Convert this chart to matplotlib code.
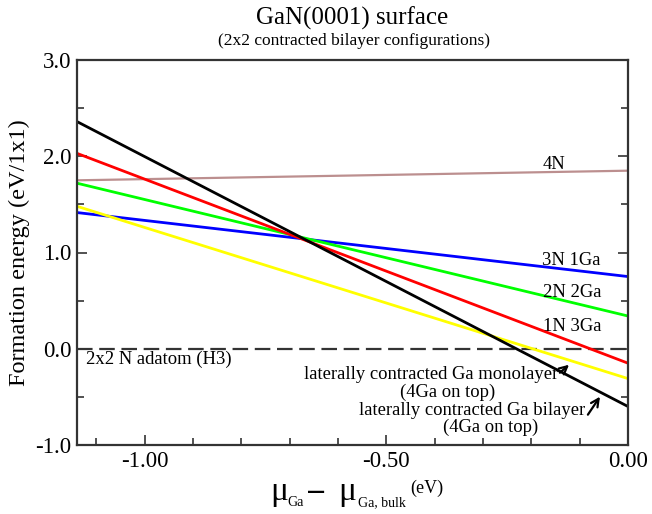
import numpy as np
import matplotlib.pyplot as plt
from matplotlib.ticker import MultipleLocator, FormatStrFormatter

plt.rcParams['font.family'] = ['Liberation Serif', 'DejaVu Serif']

# Ga chemical potential range (eV), relative to bulk Ga
mu_range = [-1.14, 0.0]

# formation energies (eV/1x1) at both ends of the mu range
e_4n = [1.75, 1.85]
e_3n1ga = [1.415, 0.75]
e_2n2ga = [1.72, 0.34]
e_1n3ga = [2.03, -0.15]
e_monolayer = [1.48, -0.31]
e_bilayer = [2.36, -0.60]
e_adatom = [0.0, 0.0]

W, H = 652, 514
fig = plt.figure(figsize=(W / 100, H / 100), dpi=100)
ax = fig.add_axes([77 / W, 1 - 445 / H, 551 / W, 385 / H])

lw = 2.0
ax.plot(mu_range, e_adatom, color='#333333', lw=1.6, dashes=(7, 3))
ax.plot(mu_range, e_4n, color='#bc8f8f', lw=1.6)
ax.plot(mu_range, e_3n1ga, color='#0000ff', lw=lw)
ax.plot(mu_range, e_2n2ga, color='#00ff00', lw=lw)
ax.plot(mu_range, e_1n3ga, color='#ff0000', lw=lw)
ax.plot(mu_range, e_monolayer, color='#ffff00', lw=lw)
ax.plot(mu_range, e_bilayer, color='#000000', lw=lw)

ax.set_xlim(mu_range)
ax.set_ylim(-1.0, 3.0)

ax.xaxis.set_major_locator(MultipleLocator(0.5))
ax.xaxis.set_minor_locator(MultipleLocator(0.1))
ax.yaxis.set_major_locator(MultipleLocator(1.0))
ax.yaxis.set_minor_locator(MultipleLocator(0.5))
ax.xaxis.set_major_formatter(FormatStrFormatter('%.2f'))
ax.yaxis.set_major_formatter(FormatStrFormatter('%.1f'))
ax.tick_params(which='both', direction='in', right=True, top=False,
               labelsize=16.5, color='#333333', width=1.2)
ax.tick_params(which='major', length=7, pad=4)
ax.tick_params(which='minor', length=5)
for s in ax.spines.values():
    s.set_color('#333333')
    s.set_linewidth(1.6)

ax.set_ylabel('Formation energy (eV/1x1)', fontsize=17.5, labelpad=4)


def ptext(x, y, s, **kw):
    # place text at pixel position (origin top-left)
    fig.text(x / W, 1 - y / H, s, ha='left', va='baseline', **kw)


# x axis label: mu_Ga - mu_Ga,bulk (eV)
ptext(270, 500, '\u03bc', fontsize=24)
ptext(287, 506, 'Ga', fontsize=10)
ptext(307, 497, '\u2014', fontsize=13, fontweight='bold', family='DejaVu Sans')
ptext(338, 500, '\u03bc', fontsize=24)
ptext(358, 506, 'Ga, bulk', fontsize=10)
ptext(410, 493, '(eV)', fontsize=13)

fig.text(0.54, 0.965, 'GaN(0001) surface', ha='center', va='center', fontsize=18)
fig.text(0.543, 0.920, '(2x2 contracted bilayer configurations)', ha='center',
         va='center', fontsize=12.5)

# labels for each configuration
fs = 13.4
ax.text(-0.176, 1.87, '4N', ha='left', va='baseline', fontsize=fs)
ax.text(-0.178, 0.87, '3N 1Ga', ha='left', va='baseline', fontsize=fs)
ax.text(-0.176, 0.54, '2N 2Ga', ha='left', va='baseline', fontsize=fs)
ax.text(-0.176, 0.18, '1N 3Ga', ha='left', va='baseline', fontsize=fs)
ax.text(-1.121, -0.115, '2x2 N adatom (H3)', ha='left', va='center', fontsize=fs)

ax.text(-0.407, -0.27, 'laterally contracted Ga monolayer', ha='center', va='center', fontsize=fs)
ax.text(-0.374, -0.45, '(4Ga on top)', ha='center', va='center', fontsize=fs)
ax.text(-0.322, -0.64, 'laterally contracted Ga bilayer', ha='center', va='center', fontsize=fs)
ax.text(-0.285, -0.82, '(4Ga on top)', ha='center', va='center', fontsize=fs)

arrow = dict(arrowstyle='->', color='black', lw=1.6, shrinkA=0, shrinkB=0,
             mutation_scale=14)
ax.annotate('', xy=(-0.122, -0.166), xytext=(-0.141, -0.249), arrowprops=arrow)
ax.annotate('', xy=(-0.058, -0.498), xytext=(-0.083, -0.685), arrowprops=arrow)

fig.savefig('out.png', dpi=100)
